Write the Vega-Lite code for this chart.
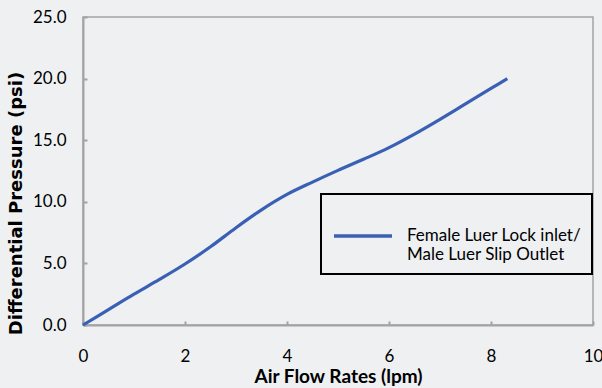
{
  "$schema": "https://vega.github.io/schema/vega-lite/v6.json",
  "width": 510,
  "height": 308,
  "autosize": {"type": "none"},
  "padding": {"left": 83, "top": 17, "right": 9, "bottom": 63},
  "background": "#eef0f2",
  "data": {
    "values": [
      {"flow": 0, "pressure": 0, "series": "Female Luer Lock inlet/ Male Luer Slip Outlet"},
      {"flow": 0.5, "pressure": 1.25, "series": "Female Luer Lock inlet/ Male Luer Slip Outlet"},
      {"flow": 1, "pressure": 2.5, "series": "Female Luer Lock inlet/ Male Luer Slip Outlet"},
      {"flow": 1.5, "pressure": 3.7, "series": "Female Luer Lock inlet/ Male Luer Slip Outlet"},
      {"flow": 2, "pressure": 4.95, "series": "Female Luer Lock inlet/ Male Luer Slip Outlet"},
      {"flow": 2.5, "pressure": 6.35, "series": "Female Luer Lock inlet/ Male Luer Slip Outlet"},
      {"flow": 3, "pressure": 7.9, "series": "Female Luer Lock inlet/ Male Luer Slip Outlet"},
      {"flow": 3.5, "pressure": 9.35, "series": "Female Luer Lock inlet/ Male Luer Slip Outlet"},
      {"flow": 4, "pressure": 10.6, "series": "Female Luer Lock inlet/ Male Luer Slip Outlet"},
      {"flow": 4.5, "pressure": 11.6, "series": "Female Luer Lock inlet/ Male Luer Slip Outlet"},
      {"flow": 5, "pressure": 12.55, "series": "Female Luer Lock inlet/ Male Luer Slip Outlet"},
      {"flow": 5.5, "pressure": 13.45, "series": "Female Luer Lock inlet/ Male Luer Slip Outlet"},
      {"flow": 6, "pressure": 14.4, "series": "Female Luer Lock inlet/ Male Luer Slip Outlet"},
      {"flow": 6.5, "pressure": 15.5, "series": "Female Luer Lock inlet/ Male Luer Slip Outlet"},
      {"flow": 7, "pressure": 16.7, "series": "Female Luer Lock inlet/ Male Luer Slip Outlet"},
      {"flow": 7.5, "pressure": 17.95, "series": "Female Luer Lock inlet/ Male Luer Slip Outlet"},
      {"flow": 8, "pressure": 19.2, "series": "Female Luer Lock inlet/ Male Luer Slip Outlet"},
      {"flow": 8.32, "pressure": 20.0, "series": "Female Luer Lock inlet/ Male Luer Slip Outlet"}
    ]
  },
  "mark": {"type": "line", "interpolate": "monotone", "strokeWidth": 3.2},
  "encoding": {
    "x": {
      "field": "flow",
      "type": "quantitative",
      "scale": {"domain": [0, 10], "nice": false},
      "axis": {
        "title": "Air Flow Rates (lpm)",
        "values": [0, 2, 4, 6, 8, 10],
        "format": "d",
        "titleY": 57,
        "titleBaseline": "alphabetic",
        "titleFont": "Lato",
        "titleFontWeight": "bold",
        "titleFontSize": 19,
        "labelPadding": 27
      }
    },
    "y": {
      "field": "pressure",
      "type": "quantitative",
      "scale": {"domain": [0, 25], "nice": false},
      "axis": {
        "title": "Differential Pressure (psi)",
        "values": [0, 5, 10, 15, 20, 25],
        "format": ".1f",
        "titleX": -67,
        "titleY": 186,
        "titleAngle": -90,
        "titleBaseline": "middle",
        "titleAlign": "center",
        "titleFont": "DejaVu Sans",
        "titleFontWeight": "bold",
        "titleFontSize": 18,
        "labelPadding": 21
      }
    },
    "color": {
      "field": "series",
      "type": "nominal",
      "scale": {"range": ["#3a60b5"]},
      "legend": {
        "title": null,
        "orient": "none",
        "legendX": 238,
        "legendY": 177,
        "symbolType": "stroke",
        "symbolSize": 3364,
        "symbolStrokeWidth": 3.5,
        "labelExpr": "split(replace(datum.label, '/ ', '/|'), '|')",
        "labelFont": "Lato",
        "labelFontSize": 17,
        "labelLineHeight": 23,
        "labelColor": "black",
        "labelLimit": 400,
        "labelOffset": 13,
        "padding": 11,
        "strokeColor": "black",
        "encode": {
          "symbols": {"update": {"stroke": {"value": "black"}, "strokeWidth": {"value": 3.5}}}
        }
      }
    }
  },
  "config": {
    "view": {"stroke": "#a3a3a3", "strokeWidth": 1.5},
    "axis": {
      "grid": false,
      "domainColor": "#a3a3a3",
      "domainWidth": 2,
      "tickColor": "#a3a3a3",
      "tickWidth": 2,
      "tickSize": -4,
      "labelFont": "Lato",
      "labelFontSize": 17,
      "labelColor": "black",
      "titleColor": "black",
      "labelFlush": false,
      "labelOverlap": false
    },
    "legend": {"strokeWidth": 2}
  }
}
